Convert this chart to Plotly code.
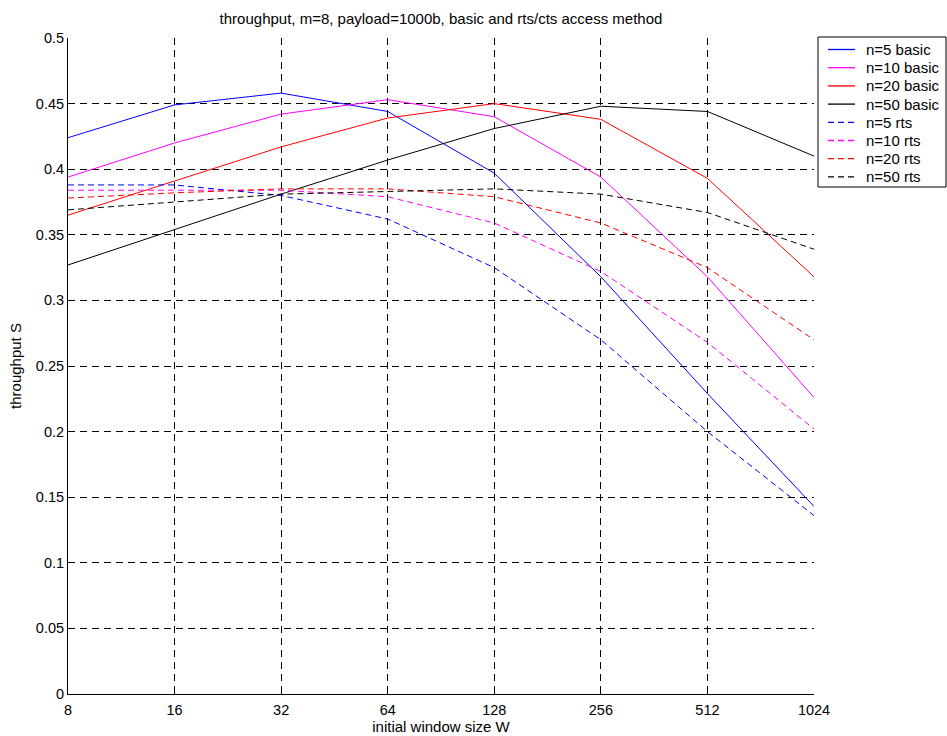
import plotly.graph_objects as go

# Initial contention window sizes
window_sizes = [8, 16, 32, 64, 128, 256, 512, 1024]

# Saturation throughput, basic access
basic_n5 = [0.424, 0.449, 0.458, 0.444, 0.397, 0.318, 0.229, 0.143]
basic_n10 = [0.394, 0.420, 0.442, 0.453, 0.440, 0.394, 0.318, 0.226]
basic_n20 = [0.365, 0.391, 0.417, 0.439, 0.450, 0.438, 0.393, 0.318]
basic_n50 = [0.327, 0.354, 0.381, 0.407, 0.431, 0.448, 0.444, 0.410]

# Saturation throughput, RTS/CTS access
rts_n5 = [0.388, 0.388, 0.380, 0.362, 0.325, 0.270, 0.200, 0.136]
rts_n10 = [0.384, 0.384, 0.384, 0.379, 0.359, 0.322, 0.268, 0.202]
rts_n20 = [0.378, 0.382, 0.385, 0.385, 0.379, 0.359, 0.325, 0.270]
rts_n50 = [0.369, 0.375, 0.381, 0.383, 0.385, 0.381, 0.367, 0.339]

x_tick_labels = ["8", "16", "32", "64", "128", "256", "512", "1024"]
y_ticks = [round(0.05 * i, 2) for i in range(11)]
y_tick_labels = ["0", "0.05", "0.1", "0.15", "0.2", "0.25", "0.3", "0.35", "0.4", "0.45", "0.5"]

DASH = "6px,4px"
series = [
    ("n=5 basic", basic_n5, "#0000ff", "solid"),
    ("n=10 basic", basic_n10, "#ff00ff", "solid"),
    ("n=20 basic", basic_n20, "#ff0000", "solid"),
    ("n=50 basic", basic_n50, "#000000", "solid"),
    ("n=5 rts", rts_n5, "#0000ff", DASH),
    ("n=10 rts", rts_n10, "#ff00ff", DASH),
    ("n=20 rts", rts_n20, "#ff0000", DASH),
    ("n=50 rts", rts_n50, "#000000", DASH),
]

FONT = "Arial, Liberation Sans, Helvetica, sans-serif"

# Page geometry (pixels) of the axes box
W, H = 947, 736
PL, PR, PT, PB = 68, 814, 38, 694
PW, PH = PR - PL, PB - PT


def px_x(px):
    return (px - PL) / PW


def px_y(py):
    return (PB - py) / PH


fig = go.Figure()
for name, values, color, dash in series:
    fig.add_trace(go.Scatter(
        x=window_sizes, y=values, name=name, mode="lines",
        line=dict(color=color, width=1, dash=dash),
        showlegend=False,
    ))

# Boxed legend in the top-right corner, MATLAB style
shapes = [dict(
    type="rect", xref="paper", yref="paper",
    x0=px_x(818), x1=px_x(946), y0=px_y(187), y1=px_y(37),
    line=dict(color="#000000", width=1), fillcolor="#ffffff", layer="above",
)]
annotations = []
row0, row_step = 49.5, 18.2
for i, (name, _, color, dash) in enumerate(series):
    yy = px_y(row0 + i * row_step)
    shapes.append(dict(
        type="line", xref="paper", yref="paper",
        x0=px_x(828), x1=px_x(855), y0=yy, y1=yy,
        line=dict(color=color, width=1.3, dash=dash), layer="above",
    ))
    annotations.append(dict(
        text=name, xref="paper", yref="paper", x=px_x(864), y=yy,
        xanchor="left", yanchor="middle", showarrow=False,
        font=dict(family=FONT, size=15, color="#000000"),
    ))

axis_common = dict(
    showgrid=True, gridcolor="#000000", gridwidth=1, griddash="7px,5px",
    zeroline=False, showline=True, linecolor="#000000", linewidth=1,
    mirror=False, ticks="inside", ticklen=5, tickcolor="#000000",
    tickfont=dict(family=FONT, size=14.5, color="#000000"),
    automargin=False,
)

fig.update_layout(
    width=W, height=H,
    paper_bgcolor="#ffffff", plot_bgcolor="#ffffff",
    margin=dict(l=PL, r=W - PR, t=PT, b=H - PB),
    font=dict(family=FONT, size=15, color="#000000"),
    title=dict(
        text="throughput, m=8, payload=1000b, basic and rts/cts access method",
        x=(PL + PW / 2) / W, xanchor="center",
        y=1 - 19 / H, yanchor="middle",
        font=dict(family=FONT, size=15, color="#000000"),
    ),
    xaxis=dict(
        type="log", range=[0.90309, 3.0103],
        tickvals=window_sizes, ticktext=x_tick_labels,
        ticklabelstandoff=3,
        title=dict(text="initial window size W", standoff=0,
                   font=dict(family=FONT, size=15)),
        **axis_common,
    ),
    yaxis=dict(
        range=[0, 0.5], tickvals=y_ticks, ticktext=y_tick_labels,
        title=dict(text="throughput S", standoff=10,
                   font=dict(family=FONT, size=15)),
        **axis_common,
    ),
    shapes=shapes,
    annotations=annotations,
    showlegend=False,
)

fig.write_html("out.html")
